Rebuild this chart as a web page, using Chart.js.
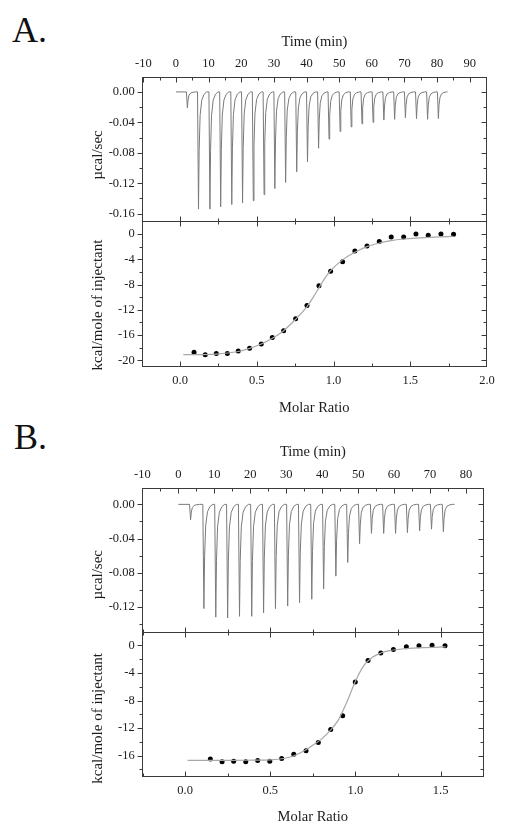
<!DOCTYPE html>
<html>
<head>
<meta charset="utf-8">
<script src="https://cdn.jsdelivr.net/npm/chart.js@4.4.1/dist/chart.umd.min.js"></script>
<style>
  html, body { margin: 0; padding: 0; background: #fff; }
  body { width: 507px; height: 835px; position: relative; overflow: hidden; font-family: 'Liberation Serif', 'Times New Roman', serif; }
  .panel-label { position: absolute; font-size: 36px; line-height: 36px; color: #111; }
  .chart-box { position: absolute; left: 0; width: 507px; }
</style>
</head>
<body>
<div class="panel-label" style="left:12px; top:12px;">A.</div>
<div class="panel-label" style="left:14px; top:419px;">B.</div>
<div class="chart-box" style="top:0; height:420px;"><canvas id="chartA"></canvas></div>
<div class="chart-box" style="top:420px; height:415px;"><canvas id="chartB"></canvas></div>
<script>
// ITC titration, two experiments (A, B)
// raw heat: time of each injection peak (min) and its minimum (µcal/sec)

const peakTimesA = [3.5, 6.9, 10.4, 13.7, 17.1, 20.4, 23.7, 27.0, 30.3, 33.6, 37.0, 40.3,
                    43.7, 46.9, 50.3, 53.7, 57.0, 60.4, 63.7, 67.0, 70.3, 73.7, 77.1, 80.4];
const peakDepthsA = [-0.021, -0.154, -0.154, -0.151, -0.148, -0.146, -0.143, -0.135, -0.127, -0.119, -0.105, -0.092,
                     -0.074, -0.062, -0.052, -0.046, -0.042, -0.040, -0.037, -0.036, -0.034, -0.035, -0.036, -0.035];
const traceEndA = 83.2;

const peakTimesB = [3.4, 7.1, 10.4, 13.7, 17.0, 20.4, 23.7, 27.0, 30.4, 33.7, 37.1,
                    40.4, 43.8, 47.1, 50.4, 53.7, 57.1, 60.4, 63.7, 67.1, 70.4, 73.7];
const peakDepthsB = [-0.018, -0.122, -0.132, -0.133, -0.131, -0.131, -0.127, -0.122, -0.119, -0.115, -0.111,
                     -0.099, -0.084, -0.068, -0.046, -0.034, -0.034, -0.034, -0.033, -0.031, -0.029, -0.032];
const traceEndB = 76.8;

// integrated heats (kcal/mole of injectant) vs molar ratio
const ratioA = [0.091, 0.164, 0.236, 0.308, 0.379, 0.453, 0.529, 0.601, 0.675, 0.753, 0.827, 0.905,
                0.981, 1.059, 1.139, 1.218, 1.298, 1.376, 1.457, 1.537, 1.617, 1.700, 1.782];
const heatA = [-18.7, -19.1, -18.9, -18.9, -18.5, -18.1, -17.4, -16.4, -15.3, -13.4, -11.3, -8.2,
               -5.9, -4.4, -2.7, -1.9, -1.2, -0.5, -0.5, 0.0, -0.2, 0.0, -0.05];
const fitRatioA = [0.021, 0.236, 0.379, 0.453, 0.529, 0.601, 0.675, 0.753, 0.827, 0.868, 0.905, 0.944,
                   0.981, 1.059, 1.139, 1.218, 1.298, 1.376, 1.457, 1.537, 1.66, 1.782];
const fitHeatA = [-19.1, -19.0, -18.6, -18.1, -17.4, -16.5, -15.3, -13.5, -11.5, -10.0, -8.5, -7.0,
                  -5.8, -4.1, -2.9, -2.0, -1.45, -1.05, -0.8, -0.65, -0.5, -0.4];

const ratioB = [0.148, 0.217, 0.285, 0.356, 0.426, 0.497, 0.567, 0.638, 0.710, 0.782,
                0.855, 0.925, 0.999, 1.074, 1.149, 1.223, 1.299, 1.373, 1.450, 1.526];
const heatB = [-16.5, -16.9, -16.8, -16.9, -16.7, -16.8, -16.4, -15.8, -15.3, -14.1,
               -12.2, -10.2, -5.3, -2.2, -1.1, -0.6, -0.2, -0.05, 0.05, -0.05];
const fitRatioB = [0.014, 0.2, 0.4, 0.5, 0.6, 0.65, 0.7, 0.75, 0.8, 0.85, 0.9, 0.95,
                   1.0, 1.05, 1.1, 1.15, 1.2, 1.3, 1.4, 1.53];
const fitHeatB = [-16.7, -16.7, -16.65, -16.6, -16.3, -15.9, -15.3, -14.5, -13.6, -12.4, -10.8, -8.2,
                  -5.2, -2.9, -1.7, -1.1, -0.75, -0.45, -0.3, -0.2];

// tick labels
const timeLabelsA = ['-10', '0', '10', '20', '30', '40', '50', '60', '70', '80', '90'];
const timeLabelsB = ['-10', '0', '10', '20', '30', '40', '50', '60', '70', '80'];
const ucalLabelsA = ['0.00', '-0.04', '-0.08', '-0.12', '-0.16'];
const ucalLabelsB = ['0.00', '-0.04', '-0.08', '-0.12'];
const kcalLabelsA = ['0', '-4', '-8', '-12', '-16', '-20'];
const kcalLabelsB = ['0', '-4', '-8', '-12', '-16'];
const ratioLabelsA = ['0.0', '0.5', '1.0', '1.5', '2.0'];
const ratioLabelsB = ['0.0', '0.5', '1.0', '1.5'];

// shape of one injection spike, relative to its minimum
const spikeShape = { dt: [-0.3, 0, 0.2, 0.5, 1.0, 1.7, 2.5], f: [0, 1, 0.5, 0.2, 0.07, 0.02, 0] };

function buildTrace(times, depths, tEnd) {
    const pts = [{x: 0, y: 0}];
    times.forEach((t, i) => {
        spikeShape.dt.forEach((d, k) => pts.push({x: t + d, y: depths[i] * spikeShape.f[k]}));
    });
    pts.push({x: tEnd, y: 0});
    return pts;
}

const toXY = (xs, ys) => xs.map((x, i) => ({x: x, y: ys[i]}));

function labelFor(v, list, dec) {
    const txt = v.toFixed(dec);
    return list.includes(txt) ? txt : '';
}

const serif = "'Liberation Serif', 'Times New Roman', serif";
const tickFont = { family: serif, size: 12.5 };
const xTitleFont = { family: serif, size: 14.5 };
const textColor = '#1c1c1c';
const axisColor = '#3a3a3a';

function zeroPad(s) {
    s.paddingLeft = 0; s.paddingRight = 0; s.paddingTop = 0; s.paddingBottom = 0;
}

// frame, Origin-style tick marks and the rotated y titles
const frameTicks = {
    id: 'frameTicks',
    afterDraw(chart, args, opts) {
        const {ctx, chartArea: a, scales} = chart;
        const line = (x1, y1, x2, y2) => { ctx.beginPath(); ctx.moveTo(x1, y1); ctx.lineTo(x2, y2); ctx.stroke(); };
        ctx.save();
        ctx.strokeStyle = axisColor;
        ctx.lineWidth = 1;
        const L = Math.round(a.left) + 0.5, R = Math.round(a.right) - 0.5;
        const top = Math.round(a.top) + 0.5, bot = Math.round(a.bottom) - 0.5;
        const mid = Math.round(scales.yBot.top) + 0.5;
        ctx.strokeRect(L, top, R - L, bot - top);
        line(L, mid, R, mid);
        ['yTop', 'yBot'].forEach(id => {
            const s = scales[id];
            s.ticks.forEach(t => {
                const y = Math.round(s.getPixelForValue(t.value)) + 0.5;
                if (y < s.top + 2 || y > s.bottom - 2) return;
                const len = t.label ? 5 : 3;
                line(L - len, y, L, y);
                line(R - len, y, R, y);
            });
        });
        scales.xTime.ticks.forEach(t => {
            const x = Math.round(scales.xTime.getPixelForValue(t.value)) + 0.5;
            if (x < L + 1 || x > R - 1) return;
            line(x, top, x, top + (t.label ? 5 : 3));
        });
        scales.xMol.ticks.forEach(t => {
            const x = Math.round(scales.xMol.getPixelForValue(t.value)) + 0.5;
            if (x < L + 1 || x > R - 1) return;
            const len = t.label ? 5 : 3;
            line(x, bot - len, x, bot);
            line(x, mid - len, x, mid + len);
        });
        // y titles, set a little below the centre of each panel as in the original
        ctx.fillStyle = textColor;
        ctx.font = "15px " + serif;
        ctx.textAlign = 'center';
        ctx.textBaseline = 'middle';
        opts.titles.forEach(tt => {
            const s = scales[tt.scale];
            ctx.save();
            ctx.translate(s.left + 9, (s.top + s.bottom) / 2 + tt.shift);
            ctx.rotate(-Math.PI / 2);
            ctx.fillText(tt.text, 0, 0);
            ctx.restore();
        });
        ctx.restore();
    }
};

function makePanel(canvasId, cfg) {
    const hidden = { display: false, drawTicks: false };
    return new Chart(document.getElementById(canvasId), {
        type: 'scatter',
        data: {
            datasets: [
                { data: cfg.trace, xAxisID: 'xTime', yAxisID: 'yTop', showLine: true, borderColor: '#7a7a7a',
                  borderWidth: 1, pointRadius: 0, tension: 0 },
                { data: cfg.fit, xAxisID: 'xMol', yAxisID: 'yBot', showLine: true, borderColor: '#a8a8a8',
                  borderWidth: 1.2, pointRadius: 0, cubicInterpolationMode: 'monotone' },
                { data: cfg.points, xAxisID: 'xMol', yAxisID: 'yBot', showLine: false, pointRadius: 2.5,
                  pointBackgroundColor: '#000', pointBorderWidth: 0 }
            ]
        },
        options: {
            responsive: true,
            maintainAspectRatio: false,
            animation: false,
            layout: { padding: cfg.padding },
            plugins: {
                legend: { display: false },
                tooltip: { enabled: false },
                frameTicks: { titles: [
                    { scale: 'yTop', text: 'µcal/sec', shift: cfg.titleShift[0] },
                    { scale: 'yBot', text: 'kcal/mole of injectant', shift: cfg.titleShift[1] }
                ] }
            },
            scales: {
                xTime: {
                    type: 'linear', position: 'top', min: cfg.timeRange[0], max: cfg.timeRange[1],
                    grid: hidden, border: { display: false },
                    ticks: { stepSize: 5, includeBounds: false, autoSkip: false, maxRotation: 0, padding: cfg.timePad,
                             font: tickFont, color: textColor, callback: v => labelFor(v, cfg.timeLabels, 0) },
                    title: { display: true, text: 'Time (min)', font: xTitleFont, color: textColor, padding: 0 },
                    afterFit: s => { s.height = cfg.timeH; zeroPad(s); }
                },
                xMol: {
                    type: 'linear', position: 'bottom', min: cfg.ratioRange[0], max: cfg.ratioRange[1],
                    grid: hidden, border: { display: false },
                    ticks: { stepSize: 0.25, includeBounds: false, autoSkip: false, maxRotation: 0, padding: cfg.ratioPad,
                             font: tickFont, color: textColor, callback: v => labelFor(v, cfg.ratioLabels, 1) },
                    title: { display: true, text: 'Molar Ratio', font: xTitleFont, color: textColor, padding: 0 },
                    afterFit: s => { s.height = cfg.ratioH; zeroPad(s); }
                },
                yBot: {
                    type: 'linear', position: 'left', stack: 'panel', stackWeight: cfg.weights[1],
                    min: cfg.kcalRange[0], max: cfg.kcalRange[1],
                    grid: hidden, border: { display: false },
                    ticks: { stepSize: 2, includeBounds: false, autoSkip: false, padding: 7,
                             font: tickFont, color: textColor, callback: v => labelFor(v, cfg.kcalLabels, 0) },
                    afterFit: s => { s.width = 52.7; zeroPad(s); }
                },
                yTop: {
                    type: 'linear', position: 'left', stack: 'panel', stackWeight: cfg.weights[0],
                    min: cfg.ucalRange[0], max: cfg.ucalRange[1],
                    grid: hidden, border: { display: false },
                    ticks: { stepSize: 0.02, includeBounds: false, autoSkip: false, padding: 7,
                             font: tickFont, color: textColor, callback: v => labelFor(v, cfg.ucalLabels, 2) },
                    afterFit: s => { s.width = 52.7; zeroPad(s); }
                }
            }
        },
        plugins: [frameTicks]
    });
}

makePanel('chartA', {
    trace: buildTrace(peakTimesA, peakDepthsA, traceEndA),
    fit: toXY(fitRatioA, fitHeatA),
    points: toXY(ratioA, heatA),
    padding: { left: 89, right: 20, top: 33.8, bottom: 3.3 },
    timeRange: [-10.5, 95.3], timeLabels: timeLabelsA, timePad: 5, timeH: 42.9,
    ratioRange: [-0.25, 2.0], ratioLabels: ratioLabelsA, ratioPad: 6.8, ratioH: 50,
    ucalRange: [-0.170, 0.020], ucalLabels: ucalLabelsA,
    kcalRange: [-21, 2], kcalLabels: kcalLabelsA,
    weights: [144.6, 145.4], titleShift: [6, 11]
});

makePanel('chartB', {
    trace: buildTrace(peakTimesB, peakDepthsB, traceEndB),
    fit: toXY(fitRatioB, fitHeatB),
    points: toXY(ratioB, heatB),
    padding: { left: 89, right: 23, top: 23, bottom: 9.3 },
    timeRange: [-10.2, 85], timeLabels: timeLabelsB, timePad: 5.2, timeH: 44.7,
    ratioRange: [-0.255, 1.755], ratioLabels: ratioLabelsB, ratioPad: 6.5, ratioH: 48.7,
    ucalRange: [-0.149, 0.0195], ucalLabels: ucalLabelsB,
    kcalRange: [-19.1, 2], kcalLabels: kcalLabelsB,
    weights: [144, 145.3], titleShift: [15, 14]
});
</script>
</body>
</html>
